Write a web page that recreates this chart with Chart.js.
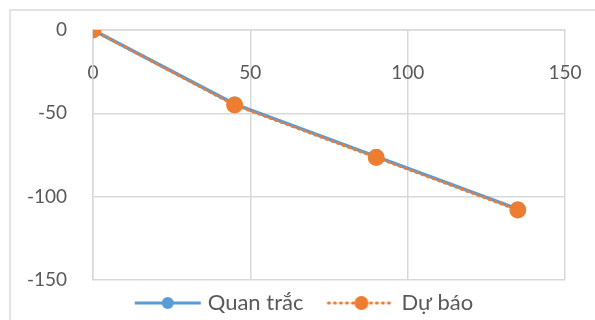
<!DOCTYPE html>
<html>
<head>
<meta charset="utf-8">
<script src="https://cdn.jsdelivr.net/npm/chart.js@4/dist/chart.umd.min.js"></script>
<style>
  html, body { margin: 0; padding: 0; background: #fff; overflow: hidden; }
  #frame { position: absolute; left: 9px; top: 9px; width: 620px; height: 340px; border: 2px solid #e3e3e3; }
  #wrap { position: absolute; left: 0; top: 0; width: 595px; height: 320px; }
</style>
</head>
<body>
<div id="frame"></div>
<div id="wrap"><canvas id="chart"></canvas></div>
<script>
// données
const xValues = [0, 45, 90, 135];
const quanTrac = [0, -44.5, -76, -107.5];
const duBao = [0, -45, -76.5, -108];
const seriesNames = ['Quan trắc', 'Dự báo'];
const xTicks = [0, 50, 100, 150];
const yTicks = [0, -50, -100, -150];

const blue = '#5B9BD5';
const orange = '#ED7D31';
const textColor = '#595959';
const gridColor = '#d9d9d9';

// symbole de légende : trait + rond, calé à droite de l'image
const boxW = 75;
function legendSymbol(color, dotted) {
  const c = document.createElement('canvas');
  const w = boxW + 10;
  c.width = w; c.height = 16;
  const g = c.getContext('2d');
  g.strokeStyle = color;
  g.fillStyle = color;
  g.lineWidth = 3;
  if (dotted) { g.setLineDash([1, 5]); g.lineCap = 'round'; }
  g.beginPath(); g.moveTo(w - 67, 8); g.lineTo(w - 1, 8); g.stroke();
  g.beginPath(); g.arc(w - 34, 8, dotted ? 7 : 6, 0, Math.PI * 2); g.fill();
  return c;
}

function toPoints(ys) {
  return xValues.map((x, i) => ({ x: x, y: ys[i] }));
}

// on enlève le débord des étiquettes pour que la zone de tracé suive layout.padding
function noOverflow(s) {
  s.paddingLeft = 0; s.paddingRight = 0; s.paddingTop = 0; s.paddingBottom = 0;
}

new Chart(document.getElementById('chart'), {
  type: 'scatter',
  data: {
    datasets: [
      {
        label: seriesNames[0],
        data: toPoints(quanTrac),
        showLine: true,
        borderColor: blue,
        backgroundColor: blue,
        borderWidth: 3.5,
        pointRadius: 6,
        pointHoverRadius: 6,
        order: 2,
      },
      {
        label: seriesNames[1],
        data: toPoints(duBao),
        showLine: true,
        borderColor: orange,
        backgroundColor: orange,
        borderWidth: 3,
        borderDash: [1, 5],
        borderCapStyle: 'round',
        pointRadius: 7,
        pointHoverRadius: 7,
        order: 1,
      },
    ]
  },
  options: {
    responsive: true,
    maintainAspectRatio: false,
    animation: false,
    layout: { padding: { left: 0, right: 0, top: 30, bottom: -4 } },
    scales: {
      x: {
        type: 'linear',
        min: 0,
        max: 150,
        position: { y: 0 },
        afterBuildTicks: (s) => { s.ticks = xTicks.map(v => ({ value: v })); },
        afterFit: (s) => { noOverflow(s); s.paddingRight = 30; },
        grid: { color: gridColor, lineWidth: 1.5, drawTicks: false },
        border: { display: true, color: gridColor, width: 1.5 },
        ticks: { color: textColor, padding: 31, font: { family: 'Lato', size: 19 } },
      },
      y: {
        type: 'linear',
        min: -150,
        max: 0,
        afterBuildTicks: (s) => { s.ticks = yTicks.map(v => ({ value: v })); },
        afterFit: (s) => { s.width = 93; noOverflow(s); },
        grid: { color: gridColor, lineWidth: 1.5, drawTicks: false },
        border: { display: true, color: gridColor, width: 1.5 },
        ticks: { color: textColor, padding: 26, font: { family: 'Lato', size: 19 } },
      }
    },
    plugins: {
      tooltip: { enabled: false },
      legend: {
        position: 'bottom',
        labels: {
          color: textColor,
          font: { family: 'Lato', size: 22 },
          usePointStyle: true,
          pointStyleWidth: boxW,
          padding: 12,
          generateLabels: (chart) => chart.data.datasets.map((d, i) => ({
            text: d.label,
            datasetIndex: i,
            fontColor: textColor,
            pointStyle: legendSymbol(d.borderColor, i === 1),
            fillStyle: d.borderColor,
            strokeStyle: d.borderColor,
            lineWidth: 0,
          })),
        }
      }
    }
  }
});
</script>
</body>
</html>
